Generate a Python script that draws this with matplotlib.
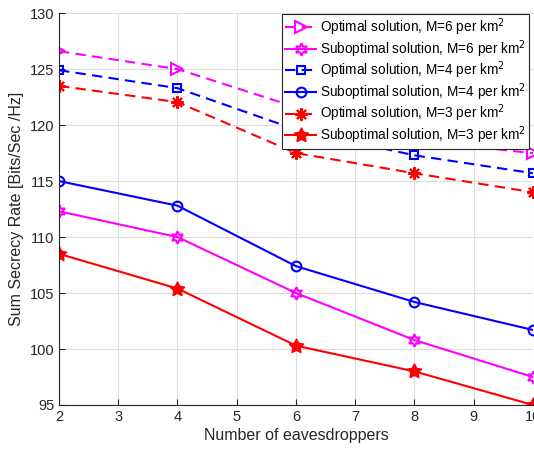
import numpy as np
import matplotlib.pyplot as plt

plt.rcParams['font.family'] = ['Liberation Sans', 'DejaVu Sans']

eaves = [2, 4, 6, 8, 10]

opt_m6 = [126.6, 125.0, 121.6, 118.6, 117.5]
sub_m6 = [112.3, 110.0, 105.0, 100.8, 97.5]
opt_m4 = [124.9, 123.3, 119.6, 117.3, 115.7]
sub_m4 = [115.0, 112.8, 107.4, 104.2, 101.7]
opt_m3 = [123.5, 122.05, 117.5, 115.7, 114.0]
sub_m3 = [108.5, 105.4, 100.3, 98.0, 95.0]

labels = [
    'Optimal solution, M=6 per km$^2$',
    'Suboptimal solution, M=6 per km$^2$',
    'Optimal solution, M=4 per km$^2$',
    'Suboptimal solution, M=4 per km$^2$',
    'Optimal solution, M=3 per km$^2$',
    'Suboptimal solution, M=3 per km$^2$',
]

fig = plt.figure(figsize=(5.34, 4.53), dpi=100)
ax = fig.add_axes([0.1105, 0.106, 0.8875, 0.865])

dash = (5, 3)
ax.plot(eaves, opt_m6, color='#ff00ff', ls='--', dashes=dash, lw=1.5,
        marker='>', ms=8, mfc='none', mew=1.5, label=labels[0])
ax.plot(eaves, sub_m6, color='#ff00ff', ls='-', lw=1.5,
        marker=(6, 1, 0), ms=9, mfc='none', mew=1.5, label=labels[1])
ax.plot(eaves, opt_m4, color='#0000ff', ls='--', dashes=dash, lw=1.5,
        marker='s', ms=6, mfc='none', mew=1.5, label=labels[2])
ax.plot(eaves, sub_m4, color='#0000ff', ls='-', lw=1.5,
        marker='o', ms=7, mfc='none', mew=1.5, label=labels[3])
ax.plot(eaves, opt_m3, color='#ff0000', ls='--', dashes=dash, lw=1.5,
        marker=(8, 2, 0), ms=9, mew=1.5, label=labels[4])
ax.plot(eaves, sub_m3, color='#ff0000', ls='-', lw=1.5,
        marker=(5, 1, 0), ms=11, mfc='#ff0000', mew=1.0, label=labels[5])

ax.set_xlim(2, 10)
ax.set_ylim(95, 130)
ax.set_xticks(range(2, 11))
ax.set_yticks(range(95, 131, 5))
ax.grid(True, color='#dddddd', lw=0.8)
ax.set_axisbelow(True)

for s in ['top', 'right']:
    ax.spines[s].set_visible(False)
for s in ['left', 'bottom']:
    ax.spines[s].set_color('#262626')
    ax.spines[s].set_linewidth(0.8)
ax.tick_params(direction='in', length=4, colors='#262626', labelsize=10.5,
               width=0.8)
for lab in ax.get_xticklabels() + ax.get_yticklabels():
    lab.set_clip_on(False)

ax.set_xlabel('Number of eavesdroppers', fontsize=11.5, color='#262626', labelpad=3)
ax.set_ylabel('Sum Secrecy Rate [Bits/Sec /Hz]', fontsize=11.5, color='#262626', labelpad=4)

leg = ax.legend(loc='upper right', bbox_to_anchor=(0.991, 0.97),
                bbox_transform=fig.transFigure, fontsize=9.8, frameon=True,
                fancybox=False, framealpha=1, edgecolor='#262626',
                handlelength=2.3, handletextpad=0.3, borderpad=0.2,
                labelspacing=0.0, borderaxespad=0)
leg.get_frame().set_linewidth(0.8)

fig.savefig('out.png', dpi=100)
